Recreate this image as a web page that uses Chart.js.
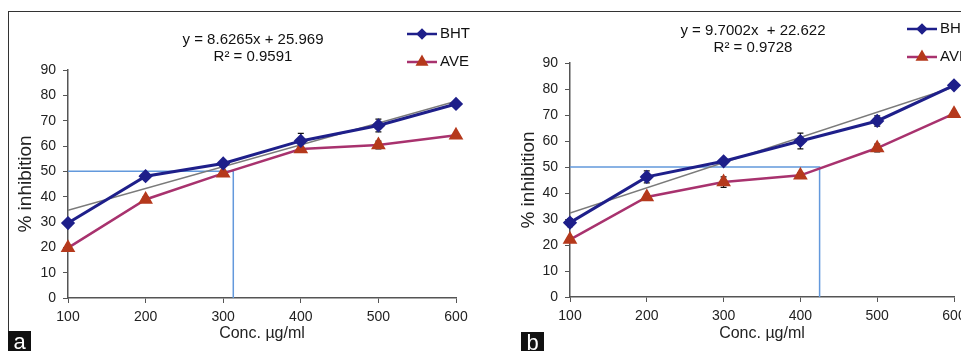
<!DOCTYPE html>
<html>
<head>
<meta charset="utf-8">
<script src="https://cdn.jsdelivr.net/npm/chart.js@4.4.0/dist/chart.umd.min.js"></script>
<style>
  html, body { margin: 0; padding: 0; background: #fff; width: 961px; height: 351px; overflow: hidden; position: relative; font-family: "Liberation Sans", Arial, sans-serif; }
  .frame { position: absolute; left: 8px; top: 11px; width: 970px; height: 350px; border-top: 1.5px solid #333; border-left: 1.5px solid #333; box-sizing: border-box; }
  canvas { position: absolute; }
  #chartA { left: 8px; top: 11px; }
  #chartB { left: 505px; top: 11px; }
  .tag { position: absolute; background: #111; color: #fff; font-size: 22px; line-height: 21px; height: 21px; text-align: center; }
</style>
</head>
<body>
<div class="frame"></div>
<canvas id="chartA" width="494" height="340"></canvas>
<canvas id="chartB" width="500" height="340"></canvas>
<div class="tag" style="left:8px;top:331px;width:23px;">a</div>
<div class="tag" style="left:521px;top:332px;width:23px;">b</div>
<script>
// Data
const concTicks = [100, 200, 300, 400, 500, 600];
const inhibitionTicks = [0, 10, 20, 30, 40, 50, 60, 70, 80, 90];
const seriesNames = ['BHT', 'AVE'];

// panel a
const bhtA = [29.6, 48.1, 53.1, 62.0, 68.1, 76.6];
const bhtErrA = [1, 1, 1, 3, 2.5, 1];
const aveA = [19.8, 38.9, 49.2, 58.8, 60.4, 64.2];
const aveErrA = [1, 1, 1, 1, 1.5, 1];
const trendA = [34.6, 77.7];
const ic50A = 313;
const equationA = ['y = 8.6265x + 25.969', 'R\u00B2 = 0.9591'];

// panel b
const bhtB = [28.6, 46.2, 52.2, 60.0, 67.7, 81.4];
const bhtErrB = [1.5, 2.3, 1, 3, 2, 1];
const aveB = [22.1, 38.5, 44.2, 46.8, 57.3, 70.5];
const aveErrB = [1, 1, 2, 1, 1.5, 1];
const trendB = [32.3, 80.8];
const ic50B = 425;
const equationB = ['y = 9.7002x  + 22.622', 'R\u00B2 = 0.9728'];

const FONT = '"Liberation Sans", Arial, sans-serif';
const BHT_COLOR = '#1e1f8a';
const AVE_LINE = '#a8326e';
const AVE_MARK = '#b5391c';
const AXIS_COLOR = '#555';

// error bars drawn from the errors array on each dataset (under the lines)
const errorBars = {
    id: 'errorBars',
    beforeDatasetsDraw(chart) {
        const ctx = chart.ctx;
        const yScale = chart.scales.y;
        chart.data.datasets.forEach((ds, i) => {
            if (!ds.errors) return;
            const meta = chart.getDatasetMeta(i);
            ctx.save();
            ctx.strokeStyle = '#111';
            ctx.lineWidth = 1.2;
            meta.data.forEach((pt, j) => {
                const v = ds.data[j].y;
                const top = yScale.getPixelForValue(v + ds.errors[j]);
                const bot = yScale.getPixelForValue(v - ds.errors[j]);
                ctx.beginPath();
                ctx.moveTo(pt.x, top); ctx.lineTo(pt.x, bot);
                ctx.moveTo(pt.x - 3, top); ctx.lineTo(pt.x + 3, top);
                ctx.moveTo(pt.x - 3, bot); ctx.lineTo(pt.x + 3, bot);
                ctx.stroke();
            });
            ctx.restore();
        });
    }
};

// regression equation and the legend
const panelText = {
    id: 'panelText',
    afterDraw(chart, args, opts) {
        const ctx = chart.ctx;
        ctx.save();
        ctx.fillStyle = '#111';
        ctx.font = '15px ' + FONT;
        ctx.textAlign = 'center';
        ctx.textBaseline = 'middle';
        opts.equation.forEach((line, i) => ctx.fillText(line, opts.eqX, opts.eqY + i * 17));

        const items = [
            { color: BHT_COLOR, mark: BHT_COLOR, style: 'rectRot', r: 4 },
            { color: AVE_LINE, mark: AVE_MARK, style: 'triangle', r: 5 }
        ];
        items.forEach((it, i) => {
            const y = opts.legY + i * 28;
            ctx.strokeStyle = it.color;
            ctx.lineWidth = 2.5;
            ctx.beginPath();
            ctx.moveTo(opts.legX, y); ctx.lineTo(opts.legX + 30, y);
            ctx.stroke();
            ctx.fillStyle = it.mark;
            ctx.strokeStyle = it.mark;
            Chart.helpers.drawPoint(ctx, { pointStyle: it.style, radius: it.r, borderWidth: 1 }, opts.legX + 15, y);
            ctx.fillStyle = '#111';
            ctx.textAlign = 'left';
            ctx.fillText(seriesNames[i], opts.legX + 33, y);
        });
        ctx.restore();
    }
};

const toPoints = vals => concTicks.map((c, i) => ({ x: c, y: vals[i] }));

function makePanel(id, bht, bhtErr, ave, aveErr, trend, ic50, equation, lay) {
    const ctx = document.getElementById(id).getContext('2d');
    return new Chart(ctx, {
        type: 'line',
        data: {
            datasets: [
                {
                    label: seriesNames[0],
                    data: toPoints(bht),
                    errors: bhtErr,
                    borderColor: BHT_COLOR,
                    backgroundColor: BHT_COLOR,
                    borderWidth: 3,
                    pointStyle: 'rectRot',
                    pointRadius: 5,
                    clip: false
                },
                {
                    label: seriesNames[1],
                    data: toPoints(ave),
                    errors: aveErr,
                    borderColor: AVE_LINE,
                    backgroundColor: AVE_MARK,
                    pointBorderColor: AVE_MARK,
                    borderWidth: 2.5,
                    pointStyle: 'triangle',
                    pointRadius: 6,
                    clip: false
                },
                {
                    label: 'trend',
                    data: [{ x: concTicks[0], y: trend[0] }, { x: concTicks[concTicks.length - 1], y: trend[1] }],
                    borderColor: '#7a7a7a',
                    borderWidth: 1.5,
                    pointRadius: 0
                },
                {
                    label: 'IC50',
                    data: [{ x: concTicks[0], y: 50 }, { x: ic50, y: 50 }, { x: ic50, y: 0 }],
                    borderColor: '#6399dc',
                    borderWidth: 1.5,
                    pointRadius: 0
                }
            ]
        },
        options: {
            responsive: false,
            animation: false,
            devicePixelRatio: 1,
            layout: { padding: { top: lay.top, right: lay.right, bottom: 0, left: 0 } },
            plugins: {
                legend: { display: false },
                tooltip: { enabled: false },
                panelText: { equation: equation, eqX: lay.eqX, eqY: lay.eqY, legX: lay.legX, legY: lay.legY }
            },
            scales: {
                x: {
                    type: 'linear',
                    min: 100,
                    max: 600,
                    afterBuildTicks: s => { s.ticks = concTicks.map(v => ({ value: v })); },
                    afterFit: s => { s.height = lay.xHeight; },
                    grid: { drawOnChartArea: false, drawTicks: true, tickLength: 5, color: AXIS_COLOR },
                    border: { color: AXIS_COLOR, width: 1.5 },
                    ticks: { color: '#222', font: { family: FONT, size: 14 }, padding: 6, maxRotation: 0 },
                    title: { display: true, text: 'Conc. \u00B5g/ml', color: '#222', font: { family: FONT, size: 16 }, padding: { top: 0, bottom: 8 } }
                },
                y: {
                    min: 0,
                    max: 90,
                    afterBuildTicks: s => { s.ticks = inhibitionTicks.map(v => ({ value: v })); },
                    afterFit: s => { s.width = lay.yWidth; },
                    grid: { drawOnChartArea: false, drawTicks: true, tickLength: 5, color: AXIS_COLOR },
                    border: { color: AXIS_COLOR, width: 1.5 },
                    ticks: { color: '#222', font: { family: FONT, size: 14 }, padding: 7 },
                    title: { display: true, text: '% inhibition', color: '#222', font: { family: FONT, size: 19 }, padding: { top: lay.yTitlePad, bottom: 0 } }
                }
            }
        },
        plugins: [errorBars, panelText]
    });
}

makePanel('chartA', bhtA, bhtErrA, aveA, aveErrA, trendA, ic50A, equationA,
    { top: 59, right: 46, xHeight: 53, yWidth: 60, yTitlePad: 6, eqX: 245, eqY: 29, legX: 399, legY: 23 });
makePanel('chartB', bhtB, bhtErrB, aveB, aveErrB, trendB, ic50B, equationB,
    { top: 52, right: 51, xHeight: 54, yWidth: 65, yTitlePad: 12, eqX: 248, eqY: 20, legX: 402, legY: 18 });
</script>
</body>
</html>
